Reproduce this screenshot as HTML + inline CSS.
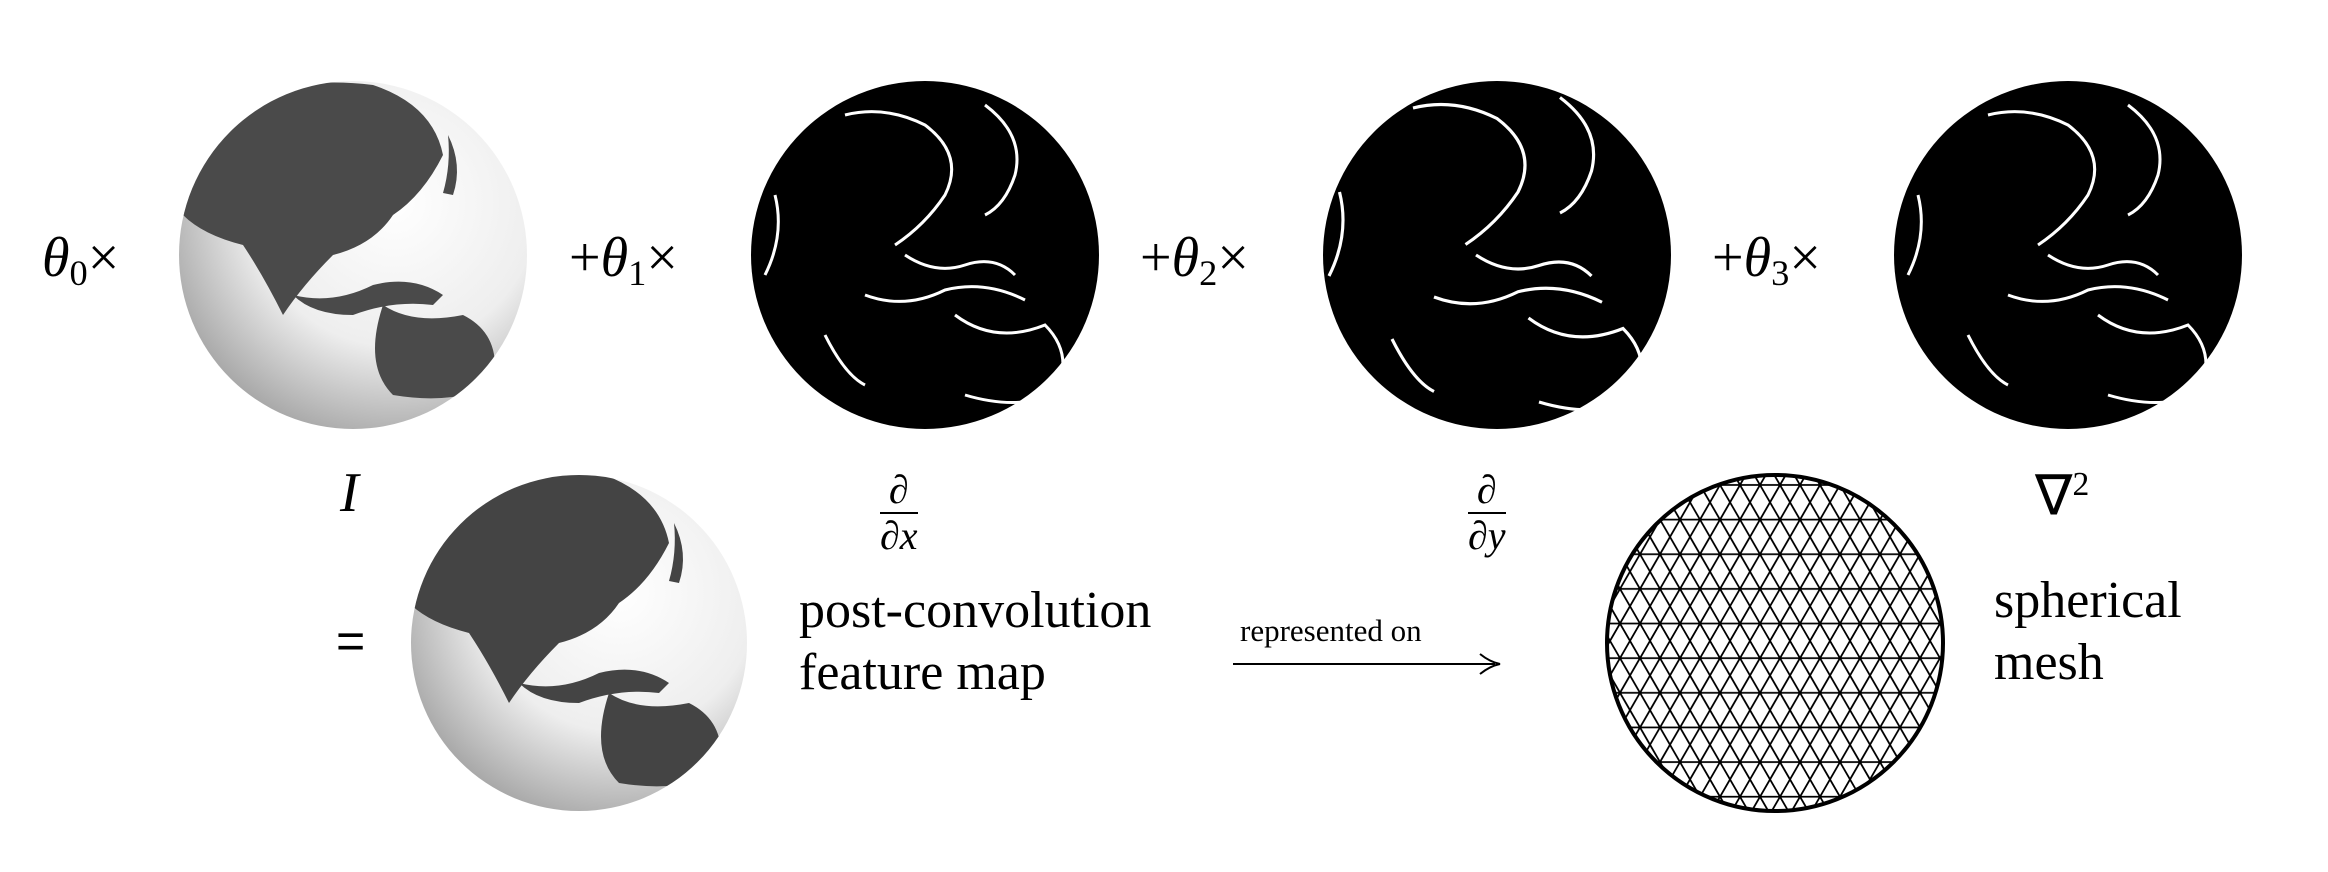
<!DOCTYPE html>
<html><head><meta charset="utf-8"><style>
html,body{margin:0;padding:0;background:#fff;}
body{width:2328px;height:872px;position:relative;overflow:hidden;font-family:"Liberation Serif",serif;color:#000;}
.t{position:absolute;font-size:56px;line-height:1;white-space:nowrap;}
.s{position:absolute;font-size:52px;line-height:1.2;white-space:nowrap;}
i{font-style:italic;}
sub{font-size:0.65em;vertical-align:-0.25em;}
.frac{position:absolute;text-align:center;font-size:40px;line-height:1;}
.frac .n{border-bottom:2px solid #000;padding:0 4px 2px;}
.frac .d{padding-top:2px;}
</style></head><body>
<svg width="2328" height="872" style="position:absolute;left:0;top:0">
<defs>
<radialGradient id="wg" cx="0.62" cy="0.35" r="0.75">
<stop offset="0" stop-color="#fff"/><stop offset="0.55" stop-color="#eee"/><stop offset="1" stop-color="#9a9a9a"/>
</radialGradient>
<pattern id="tri" width="40" height="69.28" patternUnits="userSpaceOnUse">
<path d="M0 0H40M0 34.64H40M0 69.28H40M0 0L40 69.28M40 0L0 69.28M20 0L0 34.64M20 0L40 34.64M0 34.64L20 69.28M40 34.64L20 69.28" stroke="#000" stroke-width="1.8" fill="none"/>
</pattern>
<clipPath id="c1"><circle cx="353" cy="255" r="174"/></clipPath>
<clipPath id="c5"><circle cx="579" cy="643" r="168"/></clipPath>
<clipPath id="cm"><circle cx="1775" cy="643" r="168"/></clipPath>
<g id="land">
<path d="M-130 -150 Q-60 -180 20 -170 Q80 -150 90 -100 Q70 -60 40 -40 Q20 -10 -20 0 Q-50 30 -70 60 Q-90 20 -110 -10 Q-150 -20 -170 -40 Q-175 -90 -130 -150Z"/>
<path d="M30 50 Q60 70 110 60 Q150 80 140 130 Q100 150 40 140 Q10 110 30 50Z"/>
<path d="M-60 40 Q-20 50 20 30 Q60 20 90 40 L80 50 Q40 45 0 60 Q-40 60 -60 40Z"/>
<path d="M95 -120 Q110 -90 100 -60 L90 -62 Q98 -90 95 -120Z"/>
</g>
<g id="edges" fill="none" stroke="#fff" stroke-width="3">
<path d="M-150 -60 Q-140 -20 -160 20"/>
<path d="M-80 -140 Q-40 -150 0 -130 Q40 -100 20 -60 Q0 -30 -30 -10"/>
<path d="M-60 40 Q-20 55 20 35 Q60 25 100 45"/>
<path d="M30 60 Q70 90 120 70 Q150 100 130 140 Q90 155 40 140"/>
<path d="M60 -150 Q100 -120 90 -80 Q80 -50 60 -40"/>
<path d="M-20 0 Q10 20 40 10 Q70 0 90 20"/>
<path d="M-100 80 Q-80 120 -60 130"/>
</g>
</defs>
<circle cx="353" cy="255" r="174" fill="url(#wg)"/>
<g clip-path="url(#c1)"><g fill="#4a4a4a" transform="translate(353 255)"><use href="#land"/></g></g>
<circle cx="925" cy="255" r="174" fill="#000"/>
<g transform="translate(925 255)"><use href="#edges"/></g>
<circle cx="1497" cy="255" r="174" fill="#000"/>
<g transform="translate(1497 255) scale(1.05)"><use href="#edges"/></g>
<circle cx="2068" cy="255" r="174" fill="#000"/>
<g transform="translate(2068 255)"><use href="#edges"/></g>
<circle cx="579" cy="643" r="168" fill="url(#wg)"/>
<g clip-path="url(#c5)"><g fill="#444" transform="translate(579 643)"><use href="#land"/></g></g>
<circle cx="1775" cy="643" r="168" fill="#fff"/>
<rect x="1600" y="470" width="360" height="360" fill="url(#tri)" clip-path="url(#cm)"/>
<circle cx="1775" cy="643" r="168" fill="none" stroke="#000" stroke-width="4"/>
<line x1="1233" y1="664" x2="1495" y2="664" stroke="#000" stroke-width="2"/>
<path d="M1480 654 Q1490 662 1500 664 Q1490 666 1480 674" fill="none" stroke="#000" stroke-width="2"/>
</svg>
<div class="t" style="left:42px;top:230px"><i>θ</i><sub>0</sub>×</div>
<div class="t" style="left:569px;top:230px">+<i>θ</i><sub>1</sub>×</div>
<div class="t" style="left:1140px;top:230px">+<i>θ</i><sub>2</sub>×</div>
<div class="t" style="left:1712px;top:230px">+<i>θ</i><sub>3</sub>×</div>
<div class="t" style="left:340px;top:465px"><i>I</i></div>
<div class="frac" style="left:880px;top:470px"><div class="n"><i>∂</i></div><div class="d"><i>∂x</i></div></div>
<div class="frac" style="left:1468px;top:470px"><div class="n"><i>∂</i></div><div class="d"><i>∂y</i></div></div>
<div class="t" style="left:2035px;top:468px">∇<sup style="font-size:0.6em">2</sup></div>
<div class="t" style="left:336px;top:616px;font-family:'Liberation Sans',sans-serif;font-size:50px">=</div>
<div class="s" style="left:799px;top:580px">post-convolution<br>feature map</div>
<div class="s" style="left:1240px;top:612px;font-size:31px">represented on</div>
<div class="s" style="left:1994px;top:570px">spherical<br>mesh</div>
</body></html>
